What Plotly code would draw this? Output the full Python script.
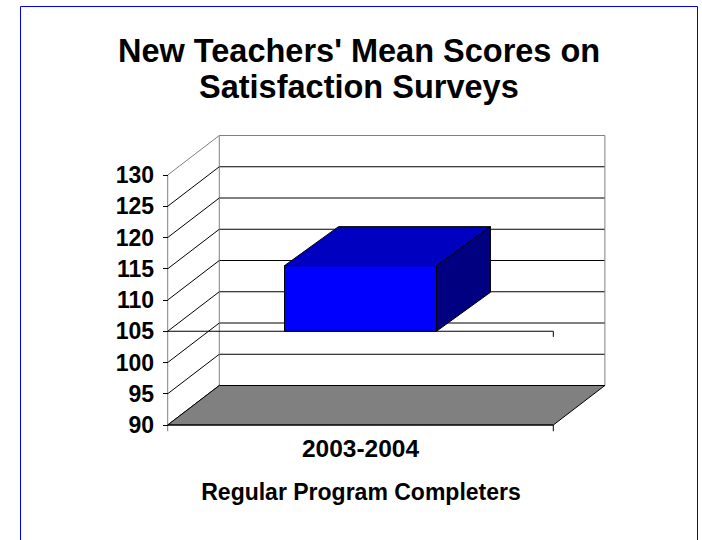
import plotly.graph_objects as go

# ---------------- data ----------------
categories = ["2003-2004"]
mean_scores = [115.5]
tick_values = [90, 95, 100, 105, 110, 115, 120, 125, 130]
tick_labels = ["90", "95", "100", "105", "110", "115", "120", "125", "130"]
title_lines = ["New Teachers' Mean Scores on", "Satisfaction Surveys"]
x_axis_title = "Regular Program Completers"

# ---------------- style / geometry constants ----------------
FONT = "Liberation Sans, Arial, sans-serif"
W, H = 702, 540
Y_MIN, Y_MAX = 90, 130
CROSS = 105               # category axis crosses value axis here
DX, DY = 0.1338, 6.32     # wall depth (category units, value units)
BDX, BDY = 0.140, 6.24    # bar depth
BAR_W = 0.394
X_RANGE = [-0.88304, 0.88563]
Y_RANGE = [71.6, 158.0]
X_DOMAIN = [20 / W, 1.0]

FRONT = "#0000FF"
TOP = "#0000C0"
SIDE = "#000080"
FLOOR = "#808080"
EDGE = "#808080"

traces = []


def seg(xs, ys, color="#000000", width=1):
    traces.append(go.Scatter(x=xs, y=ys, mode="lines",
                             line=dict(color=color, width=width),
                             hoverinfo="skip", showlegend=False))


def poly(xs, ys, fill):
    traces.append(go.Scatter(x=xs + [xs[0]], y=ys + [ys[0]], mode="lines",
                             fill="toself", fillcolor=fill,
                             line=dict(color="#000000", width=1),
                             hoverinfo="skip", showlegend=False))


L, R = -0.5, 0.5  # front plane extent of the single category slot

# back wall gridlines
for v in tick_values:
    col = EDGE if v == Y_MAX else "#000000"
    seg([L + DX, R + DX], [v + DY, v + DY], col)
# back wall vertical edges
seg([L + DX, L + DX], [Y_MIN + DY, Y_MAX + DY], EDGE)
seg([R + DX, R + DX], [Y_MIN + DY, Y_MAX + DY], EDGE)
# side wall diagonals
for v in tick_values:
    col = EDGE if v == Y_MAX else "#000000"
    seg([L, L + DX], [v, v + DY], col)
# front-left value axis line
seg([L, L], [Y_MAX, Y_MIN - 1.0], EDGE)

# floor
poly([L, R, R + DX, L + DX], [Y_MIN, Y_MIN, Y_MIN + DY, Y_MIN + DY], FLOOR)
# front edges with boundary ticks
seg([L, R, R], [Y_MIN, Y_MIN, Y_MIN - 1.0])
seg([L, R, R], [CROSS, CROSS, CROSS - 0.9])

# bars
for i, (cat, val) in enumerate(zip(categories, mean_scores)):
    xl, xr = i - BAR_W / 2, i + BAR_W / 2
    poly([xr, xr, xr + BDX, xr + BDX], [CROSS, val, val + BDY, CROSS + BDY], SIDE)
    poly([xl, xr, xr + BDX, xl + BDX], [val, val, val + BDY, val + BDY], TOP)
    poly([xl, xr, xr, xl], [CROSS, CROSS, val, val], FRONT)

fig = go.Figure(traces)

title_centres_px = [51.0, 87.5]
annotations = [
    dict(text="<b>%s</b>" % line, xref="paper", yref="paper",
         x=358.7 / W, y=1 - cy / H, xanchor="center", yanchor="middle",
         showarrow=False, font=dict(family=FONT, size=32.5, color="#000000"))
    for line, cy in zip(title_lines, title_centres_px)
]

fig.update_layout(
    width=W, height=H,
    margin=dict(l=0, r=0, t=0, b=0),
    paper_bgcolor="white", plot_bgcolor="rgba(0,0,0,0)",
    font=dict(family=FONT, color="#000000"),
    showlegend=False,
    annotations=annotations,
    xaxis=dict(range=X_RANGE, domain=X_DOMAIN, visible=False, fixedrange=True),
    yaxis=dict(range=Y_RANGE, domain=[0, 1], visible=False, fixedrange=True),
    xaxis2=dict(range=X_RANGE, domain=X_DOMAIN, overlaying="x", anchor="free",
                position=(H - 425) / H, side="bottom",
                tickmode="array", tickvals=list(range(len(categories))),
                ticktext=["<b>%s</b>" % c for c in categories],
                tickfont=dict(family=FONT, size=24.5, color="#000000"),
                ticks="", showline=False, showgrid=False, zeroline=False,
                ticklabelstandoff=6,
                title=dict(text="<b>%s</b>" % x_axis_title,
                           font=dict(family=FONT, size=23, color="#000000"),
                           standoff=23),
                fixedrange=True),
    yaxis2=dict(range=Y_RANGE, domain=[0, 1], overlaying="y", anchor="free",
                position=167.7 / W, side="left",
                tickmode="array", tickvals=tick_values,
                ticktext=["<b>%s</b>" % t for t in tick_labels],
                tickfont=dict(family=FONT, size=23, color="#000000"),
                ticks="outside", ticklen=5, tickcolor="#000000", tickwidth=1,
                ticklabelstandoff=4,
                showline=False, showgrid=False, zeroline=False,
                fixedrange=True),
    shapes=[dict(type="rect", xref="paper", yref="paper",
                 x0=20.5 / W, x1=697.5 / W, y0=-0.05, y1=1 - 6.5 / H,
                 line=dict(color="#0000FF", width=1), fillcolor="rgba(0,0,0,0)",
                 layer="above")],
)

# attach a dummy trace to the secondary axes so they render
fig.add_trace(go.Scatter(x=[None], y=[None], xaxis="x2", yaxis="y2",
                         hoverinfo="skip", showlegend=False))

fig.write_html(
    "out.html",
    config={"displayModeBar": False, "staticPlot": True},
    post_script="document.body.style.margin='0px';"
                "document.body.style.overflow='hidden';",
)
